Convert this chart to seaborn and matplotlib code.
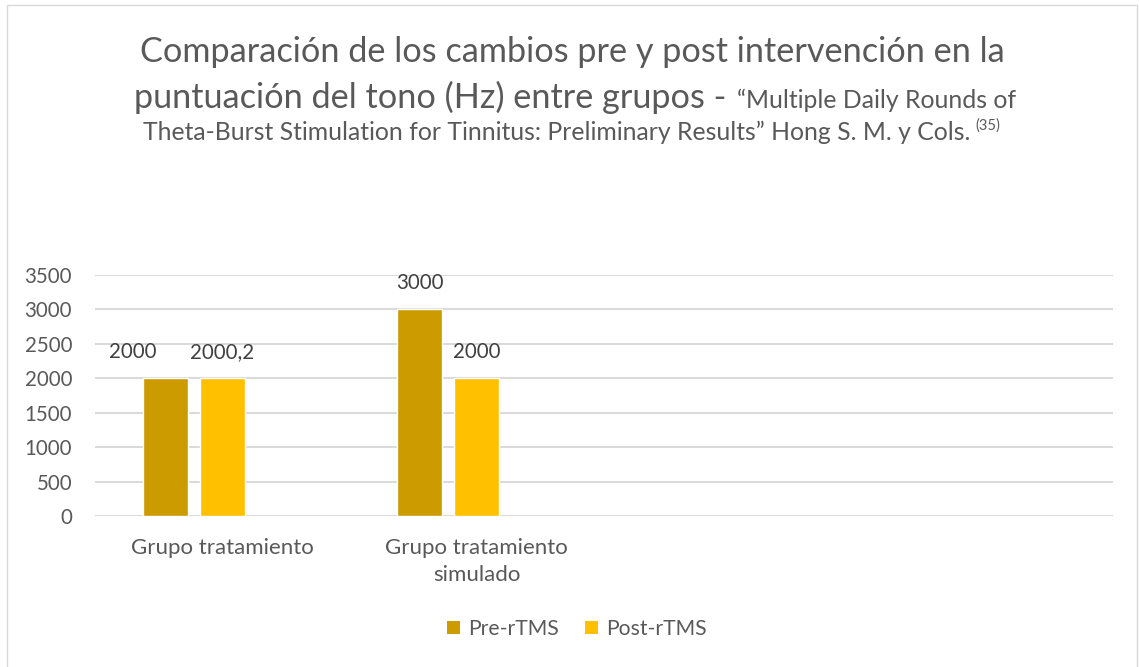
import matplotlib
matplotlib.use("Agg")
import matplotlib.pyplot as plt
from matplotlib.patches import Rectangle
from matplotlib.transforms import IdentityTransform
import seaborn as sns
import pandas as pd

# Data
groups = ["Grupo tratamiento", "Grupo tratamiento\nsimulado"]
slot_names = ["g1", "g2", "g3", "g4"]          # two empty category slots on the right
slot_labels = groups + ["", ""]
series = ["Pre-rTMS", "Post-rTMS", "Serie3"]      # third series has no values
pre_values = [2000, 3000]
post_values = [2000.2, 2000]
pre_labels = ["2000", "3000"]
post_labels = ["2000,2", "2000"]
yticks = [0, 500, 1000, 1500, 2000, 2500, 3000, 3500]

palette = {"Pre-rTMS": "#CC9B00", "Post-rTMS": "#FFC000", "Serie3": "#A5A5A5"}
text_grey = "#595959"
grid_grey = "#D9D9D9"

df = pd.DataFrame({
    "slot": slot_names[:2] * 2,
    "serie": ["Pre-rTMS"] * 2 + ["Post-rTMS"] * 2,
    "valor": pre_values + post_values,
})

sns.set_theme(style="white")
plt.rcParams["font.family"] = ["Lato", "DejaVu Sans"]

W, H = 1139, 667
fig = plt.figure(figsize=(W / 100, H / 100), dpi=100)
fig.patch.set_facecolor("white")

ax = fig.add_axes([95 / W, 1 - 516 / H, (1113 - 95) / W, (516 - 275) / H])
sns.barplot(data=df, x="slot", y="valor", hue="serie", order=slot_names,
            hue_order=series, palette=palette, width=0.67, gap=0.21,
            saturation=1, legend=False, ax=ax, errorbar=None)

ax.set_ylim(0, 3500)
ax.set_xlim(-0.5, 3.5)
ax.set_yticks(yticks)
ax.set_yticklabels([str(v) for v in yticks], color=text_grey, fontsize=14.8)
ax.set_xticks(range(4))
ax.set_xticklabels(slot_labels, color=text_grey, fontsize=16, linespacing=1.42)
ax.tick_params(axis="both", length=0)
ax.tick_params(axis="y", pad=16.5)
ax.tick_params(axis="x", pad=16)
ax.set_xlabel("")
ax.set_ylabel("")
for s in ax.spines.values():
    s.set_visible(False)
ax.yaxis.grid(True, color=grid_grey, linewidth=1.4)
ax.set_axisbelow(True)

# Data labels; the first one is nudged left so it does not collide with its neighbour
label_sets = [pre_labels, post_labels]
for k, (cont, labs) in enumerate(zip(ax.containers, label_sets)):
    texts = ax.bar_label(cont, labels=labs, padding=12, color="#404040", fontsize=14.8)
    for t in texts:
        t.set_clip_on(False)
    if k == 0:
        texts[0].xyann = (-33 / 1.389, 12)

# Legend
handles = [Rectangle((0, 0), 1, 1, facecolor=palette[s], edgecolor="none") for s in series[:2]]
leg = fig.legend(handles, series[:2], loc="center", bbox_to_anchor=(577 / W, 1 - 629 / H),
                 ncol=2, frameon=False, fontsize=15.2, handlelength=0.6, handleheight=0.6,
                 handletextpad=0.4, columnspacing=1.25)
for t in leg.get_texts():
    t.set_color(text_grey)

# Chart border
fig.patches.append(Rectangle((7 / W, -0.01), (1137 - 7) / W, 1.01 - 5 / H,
                             transform=fig.transFigure, fill=False,
                             edgecolor="#D9D9D9", linewidth=1.0))

# Title, built from pieces of different sizes
big, small, sup = 24.7, 17.8, 10.5
cx = 572
fig.canvas.draw()
rend = fig.canvas.get_renderer()
tr = IdentityTransform()

def piece(x, y, s, size):
    return fig.text(x, y, s, fontsize=size, color=text_grey, transform=tr,
                    ha="left", va="baseline")

def wid(t):
    return t.get_window_extent(rend).width

l1 = fig.text(cx, H - 62, "Comparación de los cambios pre y post intervención en la",
              fontsize=big, color=text_grey, transform=tr, ha="center", va="baseline")

a = piece(0, H - 108, "puntuación del tono (Hz) entre grupos -", big)
b = piece(0, H - 108, "“Multiple Daily Rounds of", small)
gap2 = 11
total = wid(a) + gap2 + wid(b)
x0 = cx + 3 - total / 2
a.set_x(x0)
b.set_x(x0 + wid(a) + gap2)

c = piece(0, H - 140, "Theta-Burst Stimulation for Tinnitus: Preliminary Results” Hong S. M. y Cols.", small)
d = piece(0, H - 140 + 10, "(35)", sup)
gap3 = 5
total = wid(c) + gap3 + wid(d)
x0 = cx - total / 2
c.set_x(x0)
d.set_x(x0 + wid(c) + gap3)

fig.savefig("out.png", dpi=100, facecolor="white")
